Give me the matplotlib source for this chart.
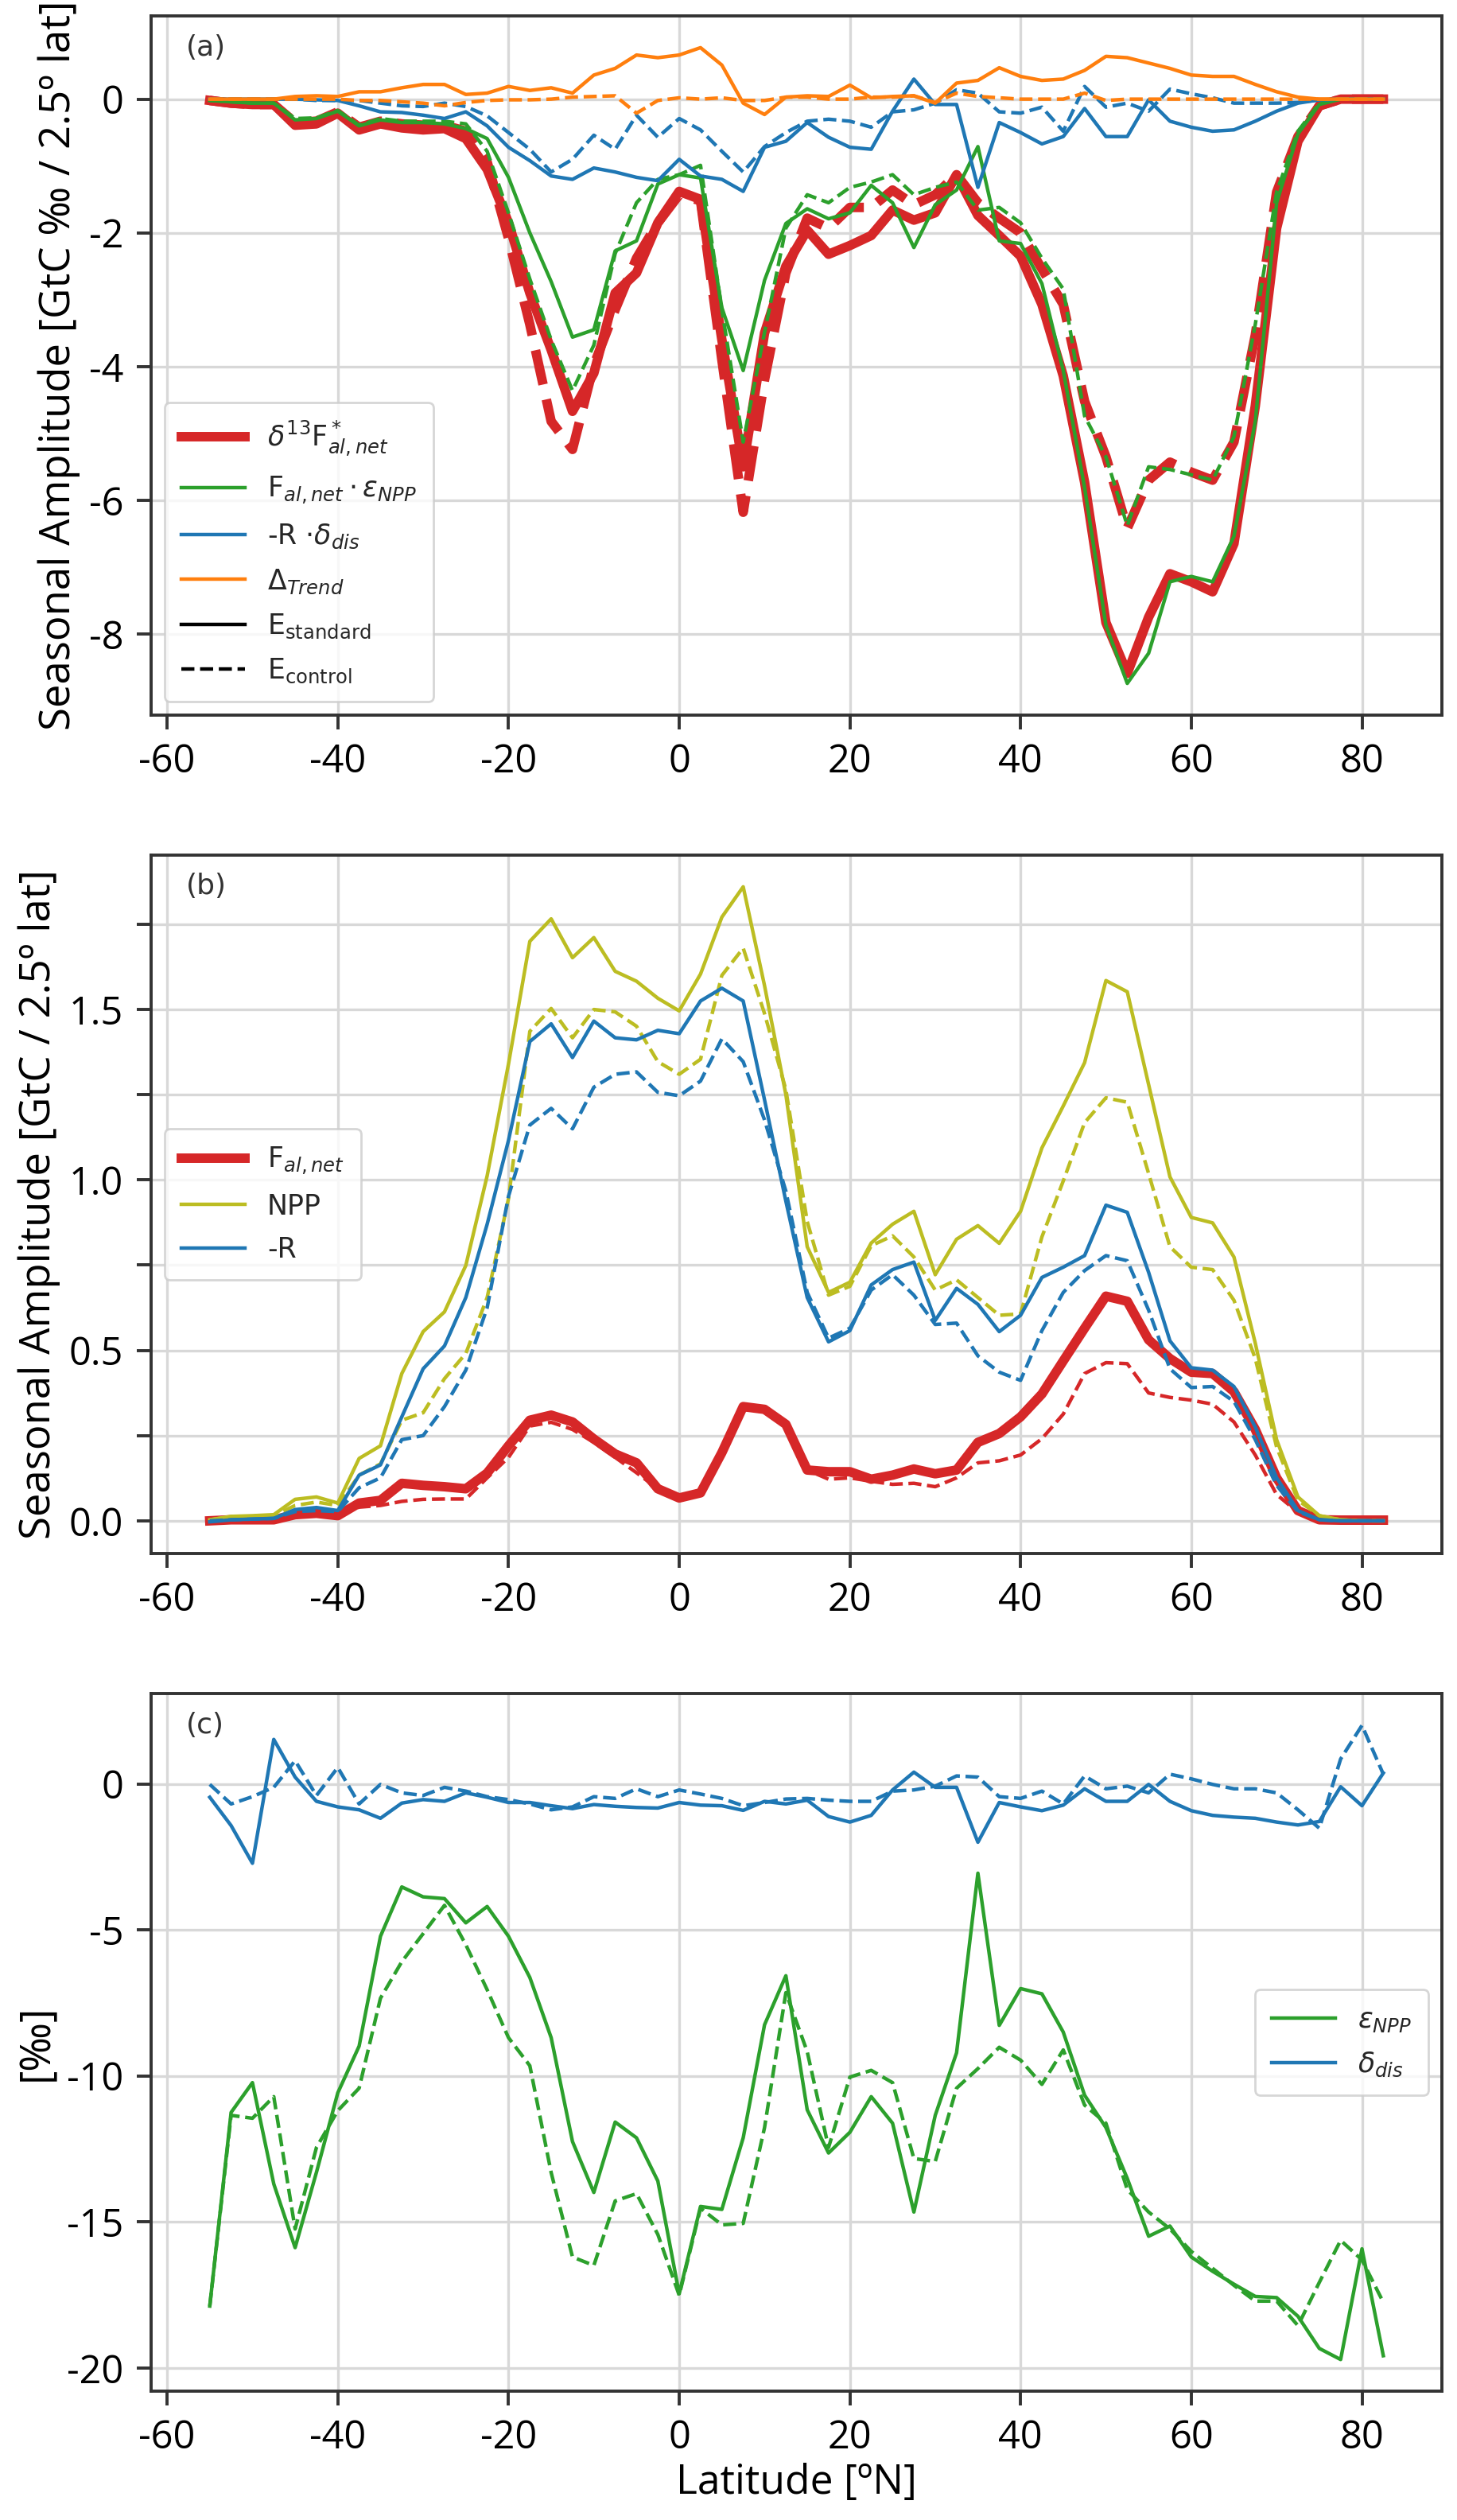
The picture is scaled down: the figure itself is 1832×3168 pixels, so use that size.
import numpy as np
import matplotlib
matplotlib.use('Agg')
import matplotlib.pyplot as plt

# latitude grid, 2.5 deg bands
lat = np.arange(-55, 82.6, 2.5)

# (a) seasonal amplitude of the isotopic flux terms [GtC permil / 2.5 lat]
d13f_std = [-0.02, -0.06, -0.08, -0.08, -0.39, -0.37, -0.21, -0.46, -0.37, -0.43, -0.46, -0.44,
            -0.59, -1.05, -1.85, -2.9, -3.75, -4.67, -4.1, -2.9, -2.6, -1.85, -1.38, -1.5,
            -3.6, -5.5, -3.5, -2.5, -1.96, -2.32, -2.19, -2.04, -1.66, -1.81, -1.7, -1.13,
            -1.74, -2.04, -2.35, -3.07, -4.14, -5.73, -7.83, -8.59, -7.75, -7.1, -7.22, -7.37,
            -6.65, -4.59, -1.93, -0.63, -0.1, 0, 0, 0]
d13f_ctl = [-0.02, -0.06, -0.08, -0.08, -0.35, -0.33, -0.19, -0.42, -0.33, -0.37, -0.39, -0.39,
            -0.48, -0.94, -2.08, -3.37, -4.82, -5.24, -3.98, -3.15, -2.38, -1.85, -1.43, -1.52,
            -3.9, -6.18, -4.2, -2.6, -1.78, -1.93, -1.62, -1.62, -1.36, -1.58, -1.43, -1.13,
            -1.55, -1.78, -2.0, -2.54, -3.07, -4.52, -5.35, -6.42, -5.7, -5.43, -5.58, -5.7,
            -5.13, -3.53, -1.39, -0.56, -0.1, 0, 0, 0]
feps_std = [-0.02, -0.04, -0.06, -0.06, -0.31, -0.29, -0.18, -0.4, -0.31, -0.35, -0.35, -0.37,
            -0.44, -0.59, -1.17, -2.0, -2.73, -3.56, -3.45, -2.27, -2.12, -1.27, -1.13, -1.18,
            -3.12, -4.06, -2.71, -1.86, -1.64, -1.79, -1.7, -1.29, -1.55, -2.22, -1.58, -1.36,
            -0.71, -2.12, -2.16, -2.76, -4.06, -5.81, -7.87, -8.74, -8.29, -7.22, -7.14, -7.22,
            -6.54, -4.82, -1.55, -0.52, -0.08, 0, 0, 0]
feps_ctl = [-0.02, -0.04, -0.06, -0.06, -0.29, -0.28, -0.17, -0.39, -0.29, -0.33, -0.33, -0.33,
            -0.37, -0.78, -1.7, -2.69, -3.6, -4.36, -3.68, -2.31, -1.55, -1.2, -1.13, -0.99,
            -3.15, -5.13, -3.49, -1.93, -1.43, -1.55, -1.32, -1.24, -1.13, -1.43, -1.32, -1.24,
            -1.66, -1.62, -1.85, -2.38, -2.84, -4.74, -5.35, -6.38, -5.5, -5.54, -5.62, -5.7,
            -5.05, -3.37, -1.39, -0.48, -0.06, 0, 0, 0]
rdis_std = [0, 0, 0, 0, 0, -0.01, -0.02, -0.1, -0.19, -0.2, -0.24, -0.29,
            -0.19, -0.4, -0.72, -0.92, -1.15, -1.2, -1.03, -1.09, -1.17, -1.22, -0.9, -1.15,
            -1.2, -1.38, -0.72, -0.63, -0.35, -0.57, -0.72, -0.75, -0.18, 0.3, -0.08, -0.08,
            -1.32, -0.35, -0.5, -0.67, -0.56, -0.14, -0.56, -0.56, -0.01, -0.33, -0.42, -0.48,
            -0.46, -0.33, -0.18, -0.06, -0.01, 0, 0, 0]
rdis_ctl = [0, 0, 0, 0, 0, -0.02, -0.02, -0.02, -0.06, -0.1, -0.11, -0.06,
            -0.11, -0.25, -0.5, -0.75, -1.09, -0.9, -0.54, -0.75, -0.24, -0.57, -0.29, -0.46,
            -0.78, -1.09, -0.71, -0.5, -0.33, -0.3, -0.33, -0.42, -0.19, -0.16, -0.06, 0.14,
            0.09, -0.19, -0.21, -0.12, -0.48, 0.19, -0.12, -0.06, -0.18, 0.15, 0.08, 0.02,
            -0.06, -0.06, -0.06, -0.05, -0.01, 0, 0, 0]
trend_std = [0, 0, 0, 0, 0.04, 0.05, 0.04, 0.11, 0.11, 0.17, 0.22, 0.22,
             0.07, 0.09, 0.19, 0.13, 0.17, 0.09, 0.36, 0.46, 0.66, 0.62, 0.66, 0.77,
             0.51, -0.06, -0.23, 0.03, 0.05, 0.04, 0.21, 0.02, 0.04, 0.05, -0.06, 0.24,
             0.28, 0.47, 0.34, 0.28, 0.3, 0.43, 0.64, 0.62, 0.54, 0.46, 0.36, 0.34,
             0.34, 0.22, 0.11, 0.03, 0, 0, 0, 0]
trend_ctl = [0, 0, 0, 0, 0, 0, 0, -0.02, -0.02, -0.04, -0.06, -0.1,
             -0.05, -0.02, -0.01, -0.01, 0, 0.03, 0.04, 0.05, -0.21, -0.02, 0.02, 0,
             0.02, -0.02, -0.02, 0.03, 0.03, 0, 0, 0.03, 0.03, 0.05, -0.05, 0.09,
             0.04, 0.02, 0, 0, 0, 0.09, -0.02, 0, 0, 0, 0, 0,
             0, 0, 0, 0, 0, 0, 0, 0]

# (b) seasonal amplitude of the carbon fluxes [GtC / 2.5 lat]
fnet_std = [0.0, 0.003, 0.003, 0.003, 0.018, 0.022, 0.015, 0.052, 0.06, 0.11, 0.104, 0.1,
            0.094, 0.14, 0.22, 0.295, 0.31, 0.29, 0.24, 0.196, 0.17, 0.094, 0.067, 0.082,
            0.2, 0.335, 0.327, 0.283, 0.149, 0.144, 0.144, 0.122, 0.134, 0.152, 0.138, 0.149,
            0.23, 0.256, 0.305, 0.372, 0.469, 0.565, 0.659, 0.644, 0.531, 0.476, 0.436, 0.432,
            0.379, 0.268, 0.126, 0.03, 0.003, 0.002, 0.002, 0.002]
fnet_ctl = [0.0, 0.003, 0.003, 0.003, 0.015, 0.018, 0.015, 0.04, 0.045, 0.057, 0.063, 0.064,
            0.064, 0.126, 0.186, 0.278, 0.289, 0.268, 0.23, 0.186, 0.141, 0.094, 0.067, 0.082,
            0.2, 0.327, 0.32, 0.278, 0.149, 0.122, 0.126, 0.116, 0.107, 0.11, 0.1, 0.126,
            0.17, 0.176, 0.193, 0.241, 0.313, 0.432, 0.464, 0.461, 0.375, 0.362, 0.354, 0.342,
            0.29, 0.193, 0.077, 0.025, 0.003, 0.002, 0.002, 0.002]
npp_std = [0.003, 0.013, 0.015, 0.018, 0.063, 0.07, 0.052, 0.183, 0.22, 0.432, 0.555, 0.613,
           0.749, 1.012, 1.34, 1.70, 1.766, 1.652, 1.711, 1.612, 1.583, 1.533, 1.496, 1.604,
           1.771, 1.86, 1.57, 1.25, 0.804, 0.67, 0.7, 0.815, 0.87, 0.908, 0.722, 0.826,
           0.866, 0.814, 0.908, 1.094, 1.217, 1.344, 1.585, 1.552, 1.28, 1.009, 0.89, 0.874,
           0.774, 0.521, 0.238, 0.07, 0.015, 0.003, 0.0, 0.0]
npp_ctl = [0.003, 0.012, 0.013, 0.015, 0.045, 0.055, 0.045, 0.134, 0.167, 0.295, 0.317, 0.417,
           0.491, 0.655, 0.945, 1.436, 1.503, 1.417, 1.5, 1.493, 1.451, 1.347, 1.31, 1.354,
           1.6, 1.68, 1.488, 1.265, 0.878, 0.662, 0.688, 0.807, 0.836, 0.774, 0.677, 0.707,
           0.655, 0.603, 0.607, 0.833, 0.997, 1.168, 1.241, 1.228, 1.019, 0.804, 0.744, 0.737,
           0.647, 0.476, 0.216, 0.06, 0.015, 0.003, 0.0, 0.0]
resp_std = [-0.003, 0.003, 0.005, 0.007, 0.033, 0.039, 0.03, 0.134, 0.164, 0.305, 0.446, 0.513,
            0.655, 0.87, 1.116, 1.406, 1.458, 1.359, 1.466, 1.417, 1.411, 1.439, 1.429, 1.525,
            1.5625, 1.525, 1.235, 0.9375, 0.655, 0.525, 0.558, 0.692, 0.737, 0.759, 0.588, 0.682,
            0.635, 0.555, 0.603, 0.714, 0.744, 0.778, 0.926, 0.905, 0.729, 0.528, 0.449, 0.442,
            0.394, 0.275, 0.126, 0.03, 0.003, 0, 0, 0]
resp_ctl = [0.0, 0.003, 0.005, 0.007, 0.027, 0.03, 0.027, 0.097, 0.126, 0.238, 0.25, 0.335,
            0.442, 0.625, 0.952, 1.161, 1.21, 1.15, 1.272, 1.31, 1.317, 1.257, 1.247, 1.29,
            1.414, 1.347, 1.176, 0.967, 0.67, 0.536, 0.565, 0.677, 0.722, 0.662, 0.576, 0.58,
            0.484, 0.436, 0.412, 0.558, 0.67, 0.734, 0.778, 0.763, 0.618, 0.446, 0.391, 0.394,
            0.35, 0.238, 0.104, 0.027, 0.003, 0, 0, 0]

# (c) isotopic signatures [permil]
eps_std = [-17.88, -11.25, -10.23, -13.7, -15.88, -13.3, -10.58, -8.98, -5.22, -3.53, -3.87, -3.93,
           -4.76, -4.2, -5.22, -6.63, -8.69, -12.25, -13.99, -11.58, -12.12, -13.6, -17.46, -14.47,
           -14.57, -12.12, -8.25, -6.57, -11.16, -12.64, -11.93, -10.71, -11.62, -14.66, -11.35, -9.21,
           -3.06, -8.27, -7.01, -7.19, -8.5, -10.66, -11.77, -13.51, -15.49, -15.14, -16.2, -16.69,
           -17.13, -17.55, -17.59, -18.23, -19.33, -19.71, -15.92, -19.58]
eps_ctl = [-17.88, -11.35, -11.45, -10.71, -15.24, -12.45, -11.19, -10.42, -7.34, -6.09, -5.13, -4.16,
           -5.51, -7.05, -8.69, -9.65, -13.31, -16.2, -16.49, -14.28, -14.03, -15.43, -17.51, -14.53,
           -15.1, -15.05, -11.77, -7.15, -9.17, -12.45, -10.04, -9.81, -10.23, -12.83, -12.93, -10.42,
           -9.75, -9.02, -9.46, -10.29, -9.11, -11.0, -11.62, -13.89, -14.66, -15.24, -16.01, -16.59,
           -17.17, -17.71, -17.71, -18.55, -17.07, -15.63, -16.3, -17.75]
ddis_std = [-0.46, -1.43, -2.72, 1.52, 0.23, -0.6, -0.79, -0.89, -1.18, -0.66, -0.54, -0.6,
            -0.31, -0.46, -0.64, -0.64, -0.75, -0.85, -0.71, -0.77, -0.81, -0.83, -0.64, -0.73,
            -0.75, -0.91, -0.6, -0.69, -0.56, -1.12, -1.31, -1.08, -0.21, 0.4, -0.12, -0.12,
            -2.0, -0.64, -0.79, -0.92, -0.73, -0.17, -0.6, -0.6, -0.02, -0.6, -0.92, -1.08,
            -1.14, -1.18, -1.31, -1.41, -1.29, -0.1, -0.75, 0.37]
ddis_ctl = [-0.02, -0.69, -0.44, -0.12, 0.79, -0.4, 0.56, -0.69, -0.02, -0.31, -0.4, -0.12,
            -0.25, -0.44, -0.54, -0.69, -0.89, -0.79, -0.44, -0.5, -0.17, -0.44, -0.21, -0.35,
            -0.5, -0.75, -0.64, -0.52, -0.5, -0.56, -0.6, -0.6, -0.25, -0.21, -0.08, 0.27,
            0.23, -0.44, -0.5, -0.25, -0.69, 0.27, -0.17, -0.08, -0.31, 0.33, 0.17, -0.02,
            -0.17, -0.17, -0.31, -0.89, -1.52, 0.85, 2.0, 0.33]

red, green, blue, orange, olive = '#d62728', '#2ca02c', '#1f77b4', '#ff7f0e', '#bcbd22'

plt.rcParams['font.family'] = ['Open Sans', 'DejaVu Sans']
plt.rcParams['axes.unicode_minus'] = False
plt.rcParams['mathtext.fontset'] = 'dejavusans'

fig = plt.figure(figsize=(9.16, 15.84), dpi=200)
ax_a = fig.add_axes([0.1037, 0.7162, 0.886, 0.2775])
ax_b = fig.add_axes([0.1037, 0.3835, 0.886, 0.2772])
ax_c = fig.add_axes([0.1037, 0.0511, 0.886, 0.2768])

thin = 1.6
thick = 4.3
leg_font = {'family': 'DejaVu Sans', 'size': 12.5}


def style(ax, letter):
    ax.set_axisbelow(True)
    ax.grid(True, color='#d8d8d8', lw=1.2)
    for s in ax.spines.values():
        s.set_color('#333333')
        s.set_linewidth(1.4)
    ax.tick_params(direction='out', length=6.5, width=1.4, color='#333333',
                   labelsize=17.5, pad=6)
    ax.set_xticks(np.arange(-60, 81, 20))
    ax.text(0.027, 0.955, letter, transform=ax.transAxes, fontsize=13,
            family='DejaVu Sans', color='#333333', va='center')


# ---- panel (a)
ax_a.plot(lat, d13f_std, color=red, lw=thick, label=r'$\delta^{13}$F$^*_{al,net}$')
ax_a.plot(lat, d13f_ctl, color=red, lw=thick, ls='--')
ax_a.plot(lat, feps_std, color=green, lw=thin, label=r'F$_{al,net}\cdot\varepsilon_{NPP}$')
ax_a.plot(lat, feps_ctl, color=green, lw=thin, ls='--')
ax_a.plot(lat, rdis_std, color=blue, lw=thin, label=r'-R $\cdot\delta_{dis}$')
ax_a.plot(lat, rdis_ctl, color=blue, lw=thin, ls='--')
ax_a.plot(lat, trend_std, color=orange, lw=thin, label=r'$\Delta_{Trend}$')
ax_a.plot(lat, trend_ctl, color=orange, lw=thin, ls='--')
ax_a.plot([0], [0], 'k-', lw=thin, label=r'E$_{\mathrm{standard}}$')
ax_a.plot([0], [0], 'k--', lw=thin, label=r'E$_{\mathrm{control}}$')
ax_a.set_yticks([-8, -6, -4, -2, 0])
ax_a.set_ylabel('Seasonal Amplitude [GtC ‰ / 2.5º lat]', fontsize=19)
style(ax_a, '(a)')
ax_a.legend(loc='lower left', prop=leg_font, handlelength=2.3, labelspacing=0.6,
            borderpad=0.6, labelcolor='#262626')

# ---- panel (b)
ax_b.plot(lat, fnet_std, color=red, lw=thick, label=r'F$_{al,net}$')
ax_b.plot(lat, fnet_ctl, color=red, lw=thin, ls='--')
ax_b.plot(lat, npp_std, color=olive, lw=thin, label='NPP')
ax_b.plot(lat, npp_ctl, color=olive, lw=thin, ls='--')
ax_b.plot(lat, resp_std, color=blue, lw=thin, label='-R')
ax_b.plot(lat, resp_ctl, color=blue, lw=thin, ls='--')
yt = np.arange(0, 1.8, 0.25)
ax_b.set_yticks(yt)
ax_b.set_yticklabels(['%.1f' % v if i % 2 == 0 else '' for i, v in enumerate(yt)])
ax_b.set_ylabel('Seasonal Amplitude [GtC / 2.5º lat]', fontsize=19)
style(ax_b, '(b)')
ax_b.legend(loc='center left', prop=leg_font, handlelength=2.3, labelspacing=0.6,
            borderpad=0.6, labelcolor='#262626')

# ---- panel (c)
ax_c.plot(lat, eps_std, color=green, lw=thin, label=r'$\varepsilon_{NPP}$')
ax_c.plot(lat, eps_ctl, color=green, lw=thin, ls='--')
ax_c.plot(lat, ddis_std, color=blue, lw=thin, label=r'$\delta_{dis}$')
ax_c.plot(lat, ddis_ctl, color=blue, lw=thin, ls='--')
ax_c.set_yticks([-20, -15, -10, -5, 0])
ax_c.set_ylabel('[‰]', fontsize=19)
ax_c.set_xlabel('Latitude [ºN]', fontsize=18.6, labelpad=2)
style(ax_c, '(c)')
ax_c.legend(loc='center right', prop=leg_font, handlelength=2.3, labelspacing=0.6,
            borderpad=0.6, labelcolor='#262626')

fig.savefig('out.png', dpi=200)
